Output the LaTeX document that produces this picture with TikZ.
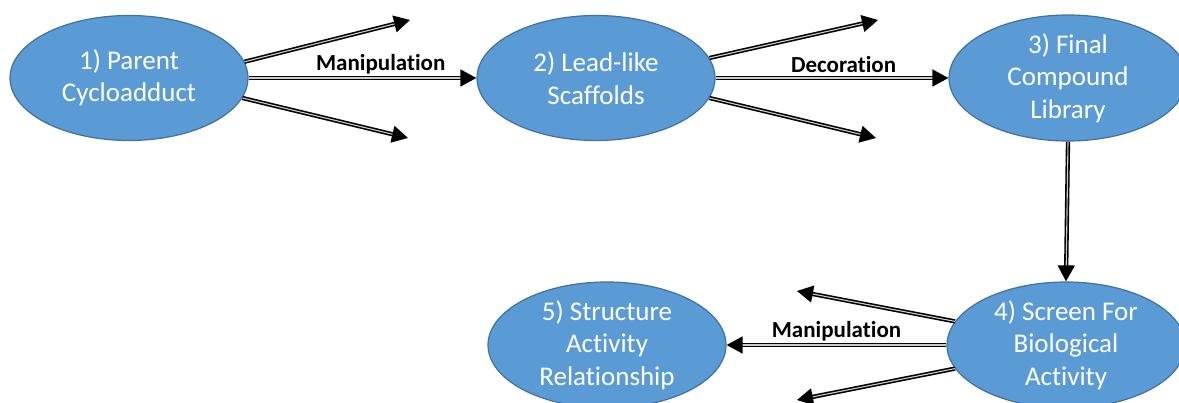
\documentclass[tikz,border=0pt]{standalone}
\usepackage{fontspec}
\setmainfont{Carlito}[Ligatures=NoCommon]
\usetikzlibrary{shapes.geometric, arrows.meta}

\definecolor{stepblue}{HTML}{5B9BD5}
\definecolor{stepedge}{HTML}{41719C}

\begin{document}
\begin{tikzpicture}
        [x=1pt,y=-1pt,
         stage/.style={draw=stepedge,line width=1.2pt,fill=stepblue,shape=ellipse,inner sep=0,
           minimum width=238pt,minimum height=125pt,text=white,align=center,
           font=\fontsize{27}{32.5}\selectfont},
         flow/.style={line width=1.6pt,double=white!80!black,double distance=1.1pt,
           -{Triangle[length=16pt,width=17pt]}},
         tag/.style={font=\fontsize{23}{24}\selectfont\bfseries}]

        \useasboundingbox (0,0) rectangle (1179,403);

        \node[stage] (parent) at (129, 78) {1) Parent\\Cycloadduct};
        \node[stage] (lead) at (596, 78) {2) Lead-like\\Scaffolds};
        \node[stage] (final) at (1068, 78) {3) Final\\Compound\\Library};
        \node[stage] (screen) at (1066, 345) {4) Screen For\\Biological\\Activity};
        \node[stage] (sar) at (607, 345) {5) Structure\\Activity\\Relationship};

        \coordinate (p1) at (410, 20);
        \coordinate (p2) at (408, 138);
        \coordinate (l1) at (878, 20);
        \coordinate (l2) at (876, 138);
        \coordinate (s1) at (797, 291);
        \coordinate (s2) at (797, 400);

        \draw[flow] (parent.8) -- (p1);
        \draw[flow] (parent.east) -- (lead.west)
          node[tag,pos=0.58,above=0pt] (manA) {Manipulation};
        \draw[flow] (parent.-10) -- (p2);
        \draw[flow] (lead.10) -- (l1);
        \draw[flow] (lead.east) -- (final.west)
          node[tag,pos=0.55,above=1pt] (deco) {Decoration};
        \draw[flow] (lead.-10) -- (l2);
        \draw[flow] (final.south) -- (screen.north);
        \draw[flow] (screen.168) -- (s1);
        \draw[flow] (screen.west) -- (sar.east)
          node[tag,midway,above=0pt] (manB) {Manipulation};
        \draw[flow] (screen.-168) -- (s2);
      \end{tikzpicture}
\end{document}
